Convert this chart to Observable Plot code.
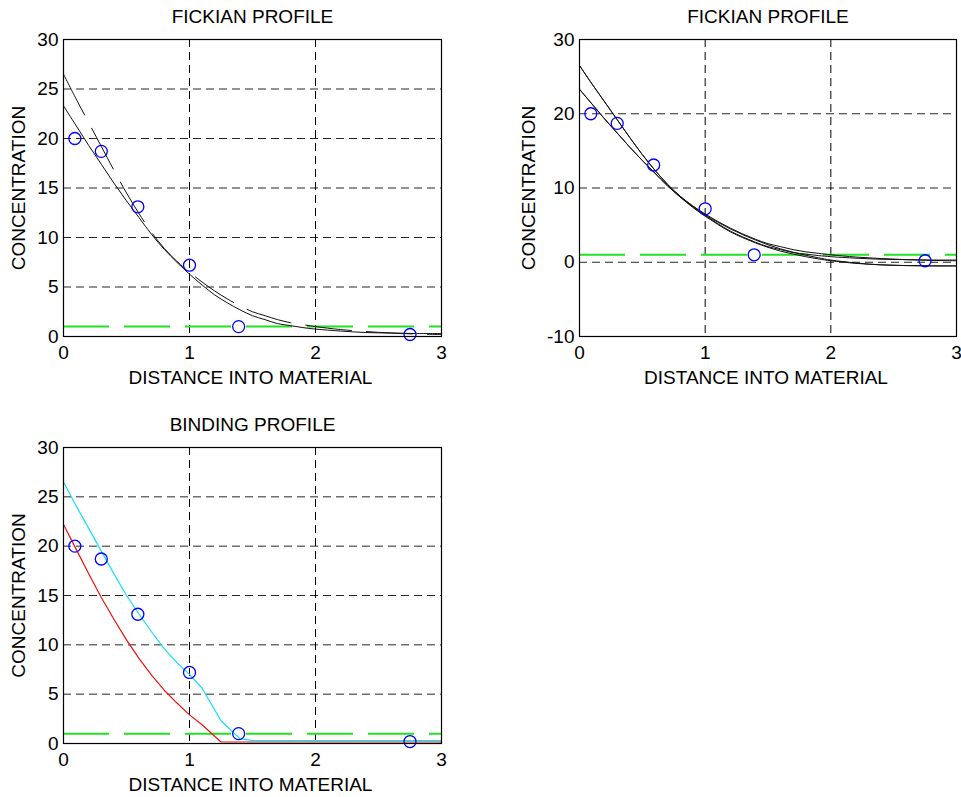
<!DOCTYPE html>
<html><head><meta charset="utf-8">
<script src="https://cdn.jsdelivr.net/npm/d3@7"></script>
<script src="https://cdn.jsdelivr.net/npm/@observablehq/plot@0.6"></script>
<style>
html,body{margin:0;padding:0;background:#fff;width:961px;height:797px;overflow:hidden;}
#wrap{position:relative;width:961px;height:797px;background:#fff;}
</style></head><body><div id="wrap"></div>
<script>
// measured data (blue circles), shared by all panels
const measuredX = [0.09, 0.3, 0.59, 1.0, 1.39, 2.75];
const measuredY = [20.0, 18.7, 13.1, 7.2, 1.0, 0.2];
// threshold (green dashed)
const thresholdLevel = [1];

// Fickian profiles
const profileX   = [0,0.1,0.2,0.3,0.4,0.5,0.6,0.7,0.8,0.9,1.0,1.1,1.2,1.3,1.4,1.5,1.6,1.7,1.8,1.9,2.0,2.2,2.4,2.6,2.8,3.0];
const fickDashed = [26.5,24.0,21.6,19.2,16.8,14.5,12.4,10.5,8.9,7.6,6.5,5.5,4.6,3.8,3.1,2.5,2.1,1.7,1.4,1.2,1.0,0.7,0.5,0.35,0.25,0.2];
const fickSolid  = [23.3,21.3,19.3,17.4,15.5,13.7,12.0,10.3,8.8,7.5,6.3,5.2,4.2,3.4,2.7,2.1,1.7,1.3,1.1,0.9,0.75,0.55,0.4,0.35,0.3,0.3];
const fickLowA   = [26.5,24.0,21.6,19.2,16.8,14.5,12.4,10.5,8.9,7.6,6.4,5.4,4.5,3.7,3.0,2.35,1.8,1.35,0.95,0.6,0.3,-0.1,-0.35,-0.45,-0.5,-0.5];
const fickLowB   = [23.3,21.3,19.3,17.4,15.5,13.7,12.0,10.3,8.8,7.4,6.2,5.1,4.1,3.3,2.6,2.0,1.5,1.1,0.75,0.45,0.2,-0.15,-0.35,-0.45,-0.48,-0.48];

// Binding profiles
const bindX     = [0,0.1,0.2,0.3,0.4,0.5,0.6,0.7,0.8,0.9,1.0,1.1,1.25,1.4,1.5,2.0,2.5,3.0];
const bindCyan  = [26.5,24.1,21.8,19.5,17.2,15.0,13.1,11.3,9.6,8.2,7.0,5.6,2.3,0.5,0.3,0.3,0.3,0.3];
const bindRed   = [22.2,19.7,17.2,14.8,12.6,10.5,8.6,6.9,5.4,4.1,2.9,1.9,0.15,0.15,0.15,0.15,0.15,0.15];

// ticks and text
const xTicks = [0, 1, 2, 3];
const yTicksNarrow = [0, 5, 10, 15, 20, 25, 30];
const yTicksWide = [-10, 0, 10, 20, 30];
const panelTitles = ["FICKIAN PROFILE", "FICKIAN PROFILE", "BINDING PROFILE"];
const xLabel = "DISTANCE INTO MATERIAL";
const yLabel = "CONCENTRATION";

const toRows = (xs, ys) => xs.map((x, i) => ({x, y: ys[i]}));
const points = toRows(measuredX, measuredY);
const plainFormat = d => String(d);

function panel(cfg) {
  const marks = [
    Plot.gridX(xTicks, {stroke: "#000", strokeOpacity: 1, strokeDasharray: "8,5"}),
    Plot.gridY(cfg.yTicks, {stroke: "#000", strokeOpacity: 0.85, strokeDasharray: "8,5"}),
    Plot.ruleY(thresholdLevel, {stroke: "#22e022", strokeWidth: 2, strokeDasharray: "46,15"}),
    ...cfg.lines,
    Plot.dot(points, {x: "x", y: "y", r: 6, stroke: "#0000ff", strokeWidth: 1.3, fill: "none"}),
    Plot.frame({stroke: "#000", strokeWidth: 1.2}),
    Plot.axisX(xTicks, {anchor: "bottom", tickSize: 0, tickPadding: 9, label: null, tickFormat: plainFormat, fontSize: 19}),
    Plot.axisY(cfg.yTicks, {anchor: "left", tickSize: 0, tickPadding: 5, label: null, tickFormat: plainFormat, fontSize: 19}),
    Plot.text([cfg.title], {text: d => d, frameAnchor: "top", dy: -23, lineAnchor: "middle", fontSize: 19}),
    Plot.text([xLabel], {text: d => d, frameAnchor: "bottom", dx: -2, dy: 41, lineAnchor: "middle", fontSize: 19}),
    Plot.text([yLabel], {text: d => d, frameAnchor: "left", textAnchor: "middle", dx: cfg.yLabelDx, rotate: -90, lineAnchor: "middle", fontSize: 19})
  ];
  const svg = Plot.plot({
    width: cfg.width, height: cfg.height,
    marginLeft: cfg.mL, marginRight: cfg.mR, marginTop: cfg.mT, marginBottom: cfg.mB,
    x: {domain: [0, 3]},
    y: {domain: cfg.yDomain},
    style: {fontFamily: "'Liberation Sans', Arial, sans-serif", fontSize: "19px", color: "#000", background: "transparent", overflow: "visible"},
    marks
  });
  svg.style.position = "absolute";
  svg.style.left = cfg.left + "px";
  svg.style.top = cfg.top + "px";
  document.getElementById("wrap").appendChild(svg);
}

const blackLine = (ys, extra = {}) => Plot.line(toRows(profileX, ys), {x: "x", y: "y", stroke: "#111", strokeWidth: 1, curve: "catmull-rom", clip: true, ...extra});

panel({
  left: 0, top: 0, width: 480, height: 400, mL: 63, mR: 39, mT: 39, mB: 64,
  yDomain: [0, 30], yTicks: yTicksNarrow, title: panelTitles[0], yLabelDx: -45,
  lines: [blackLine(fickSolid), blackLine(fickDashed, {strokeDasharray: "46,15"})]
});
panel({
  left: 480, top: 0, width: 481, height: 400, mL: 99, mR: 5, mT: 39, mB: 64,
  yDomain: [-10, 30], yTicks: yTicksWide, title: panelTitles[1], yLabelDx: -51,
  lines: [blackLine(fickSolid), blackLine(fickDashed), blackLine(fickLowA), blackLine(fickLowB)]
});
panel({
  left: 0, top: 408, width: 480, height: 398, mL: 63, mR: 39, mT: 39, mB: 63,
  yDomain: [0, 30], yTicks: yTicksNarrow, title: panelTitles[2], yLabelDx: -45,
  lines: [
    Plot.line(toRows(bindX, bindRed), {x: "x", y: "y", stroke: "#ee1111", strokeWidth: 1.2, clip: true}),
    Plot.line(toRows(bindX, bindCyan), {x: "x", y: "y", stroke: "#11e0ee", strokeWidth: 1.2, clip: true})
  ]
});
</script></body></html>
